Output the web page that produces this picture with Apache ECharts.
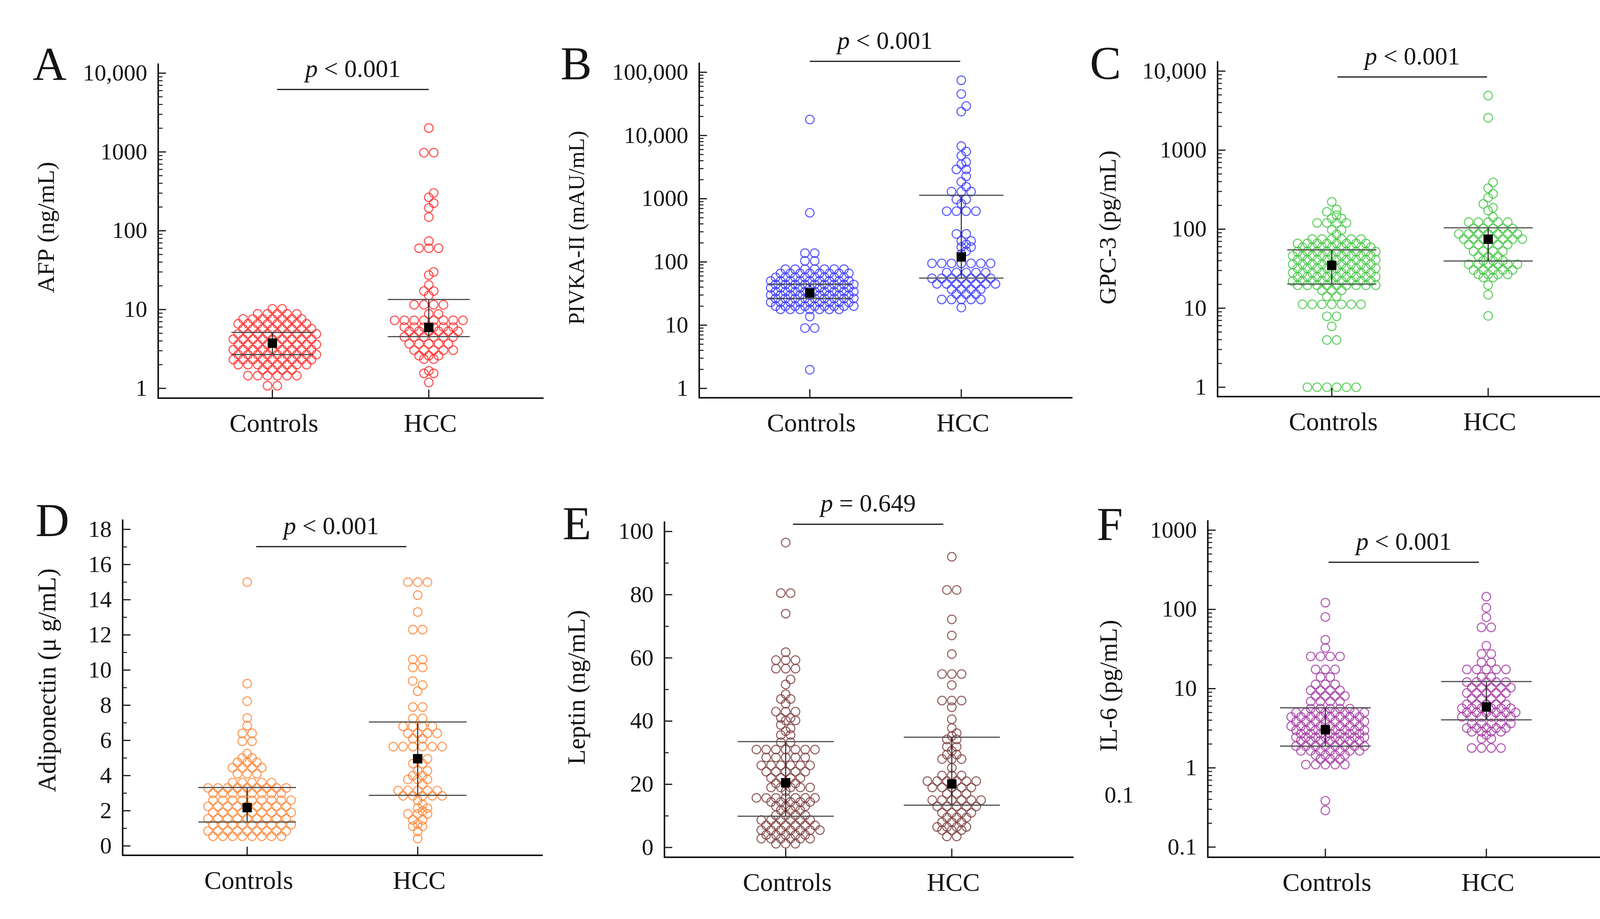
<!DOCTYPE html>
<html>
<head>
<meta charset="utf-8">
<title>Serum markers in controls and HCC</title>
<script src="https://cdn.jsdelivr.net/npm/echarts@6/dist/echarts.min.js"></script>
<style>
html, body { margin: 0; padding: 0; background: #fff; }
#chart { width: 4187px; height: 2352px; }
</style>
</head>
<body>
<div id="chart"></div>
<script>
var groups = ['Controls', 'HCC'];

// A - AFP (ng/mL)
var afpControls = [
  1.08, 1.08,
  1.45, 1.45, 1.45, 1.45, 1.45, 1.45,
  1.72, 1.72, 1.72, 1.72,
  2.0, 2.0, 2.0, 2.0, 2.0, 2.0, 2.0, 2.0,
  2.32, 2.32, 2.32, 2.32, 2.32, 2.32, 2.32, 2.32, 2.32,
  2.68, 2.68, 2.68, 2.68, 2.68, 2.68, 2.68, 2.68, 2.68,
  3.1, 3.1, 3.1, 3.1, 3.1, 3.1, 3.1, 3.1, 3.1,
  3.6, 3.6, 3.6, 3.6, 3.6, 3.6, 3.6, 3.6, 3.6,
  4.2, 4.2, 4.2, 4.2, 4.2, 4.2, 4.2, 4.2, 4.2,
  4.9, 4.9, 4.9, 4.9, 4.9, 4.9, 4.9, 4.9, 4.9,
  5.7, 5.7, 5.7, 5.7, 5.7, 5.7, 5.7, 5.7,
  6.6, 6.6, 6.6, 6.6, 6.6, 6.6, 6.6, 6.6,
  7.6, 7.6, 7.6, 7.6, 7.6, 7.6, 7.6,
  8.8, 8.8, 8.8, 8.8, 8.8,
  10.2, 10.2
];
var afpHcc = [
  2010, 980, 980, 302, 265, 224, 195, 149, 74, 60, 60, 60, 30, 27.4, 20.5, 17.2, 17.2, 15.1,
  11.5, 11.5, 11.5, 11.5, 8.8, 8.8,
  7.3, 7.3, 7.3, 7.3, 7.3, 7.3, 7.3, 7.3,
  6.0, 6.0, 6.0, 6.0, 6.0, 6.0,
  5.3, 5.3, 5.3, 5.3, 5.3, 5.3,
  4.5, 4.5, 4.5, 4.5, 4.5, 4.5,
  3.67, 3.67, 3.67, 3.67, 3.67,
  3.05, 3.05, 3.05, 3.05, 3.05,
  2.6, 2.6, 2.6, 2.35, 2.35, 1.67, 1.55, 1.55, 1.19
];
var afpControlsBar = [2.68, 3.75, 5.13];   // low, centre, high
var afpHccBar = [4.54, 5.93, 13.4];
var afpTicks = [1, 10, 100, 1000, 10000];
var afpTickLabels = ['1', '10', '100', '1000', '10,000'];
var afpP = 'p < 0.001';

// B - PIVKA-II (mAU/mL)
var pivkaControls = [
  17900, 600, 138, 138, 104, 104,
  77, 77, 77, 77, 77, 77, 77,
  66, 66, 66, 66, 66, 66, 66, 66,
  57, 57, 57, 57, 57, 57, 57, 57,
  50, 50, 50, 50, 50, 50, 50, 50, 50,
  44, 44, 44, 44, 44, 44, 44, 44, 44,
  39, 39, 39, 39, 39, 39, 39, 39, 39,
  34, 34, 34, 34, 34, 34, 34, 34, 34,
  30, 30, 30, 30, 30, 30, 30, 30, 30,
  26.5, 26.5, 26.5, 26.5, 26.5, 26.5, 26.5, 26.5, 26.5,
  23, 23, 23, 23, 23, 23, 23, 23, 23,
  20, 20, 20, 20, 20, 20, 20, 20, 20,
  17.8, 17.8, 17.8, 17.8, 17.8, 17.8, 17.8,
  13.7, 9, 9, 1.97
];
var pivkaHcc = [
  74800, 45400, 29200, 23900,
  6800, 5570, 4790, 3815, 3515, 2910, 2910, 2265, 1855, 1550,
  1295, 1295, 1295, 975, 975, 835, 635, 635, 635, 635,
  278, 278, 215, 215, 190, 172, 172, 148, 133,
  95, 95, 95, 95, 95, 95, 95,
  68, 68, 68, 68, 68,
  55, 55, 55, 55, 55, 55, 55,
  45, 45, 45, 45, 45, 45, 45,
  37, 37, 37, 37, 31, 31, 31,
  25.5, 25.5, 25.5, 25.5, 25.5, 19
];
var pivkaControlsBar = [26.5, 32.4, 44.6];
var pivkaHccBar = [55.6, 120, 1136];
var pivkaTicks = [1, 10, 100, 1000, 10000, 100000];
var pivkaTickLabels = ['1', '10', '100', '1000', '10,000', '100,000'];
var pivkaP = 'p < 0.001';

// C - GPC-3 (pg/mL)
var gpc3Controls = [
  1, 1, 1, 1, 1, 1, 3.96, 3.96, 5.9, 7.9, 7.9,
  11.2, 11.2, 11.2, 11.2, 11.2, 11.2, 11.2, 14.1, 14.1, 16.8, 16.8, 16.8,
  19.5, 19.5, 19.5, 19.5, 19.5, 19.5, 19.5, 19.5, 19.5,
  22, 22, 22, 22, 22, 22, 22, 22, 22,
  25, 25, 25, 25, 25, 25, 25, 25, 25,
  28, 28, 28, 28, 28, 28, 28, 28, 28,
  32, 32, 32, 32, 32, 32, 32, 32, 32,
  36, 36, 36, 36, 36, 36, 36, 36, 36,
  41, 41, 41, 41, 41, 41, 41, 41, 41,
  46, 46, 46, 46, 46, 46, 46, 46, 46,
  52, 52, 52, 52, 52, 52, 52, 52, 52,
  59, 59, 59, 59, 59, 59, 59, 59,
  66, 66, 66, 66, 66, 66, 66, 66,
  75, 75, 75, 75, 75, 75,
  86, 98, 98, 120, 120, 120, 120, 137, 137, 150, 166, 178, 222
];
var gpc3Hcc = [
  4900, 2570, 391, 330, 280, 250, 209, 187, 172, 142,
  123, 123, 123, 123, 123,
  102, 102, 102, 102, 102,
  87, 87, 87, 87, 87, 87, 87,
  75, 75, 75, 75, 75, 75, 75,
  64, 64, 64, 64, 64,
  52.6, 52.6, 52.6, 52.6, 45, 45, 45, 40, 40, 40,
  36, 36, 36, 36, 36, 36,
  30.5, 30.5, 30.5, 30.5, 30.5,
  26.8, 26.8, 26.8, 26.8, 24.5, 24.5, 19.6, 14.8, 8.0
];
var gpc3ControlsBar = [20.2, 34.9, 54.7];
var gpc3HccBar = [39.5, 74.7, 104];
var gpc3Ticks = [1, 10, 100, 1000, 10000];
var gpc3TickLabels = ['1', '10', '100', '1000', '10,000'];
var gpc3P = 'p < 0.001';

// D - Adiponectin (ug/mL)
var adipoControls = [
  0.55, 0.55, 0.55, 0.55, 0.55, 0.55, 0.55, 0.55,
  0.85, 0.85, 0.85, 0.85, 0.85, 0.85, 0.85, 0.85, 0.85,
  1.2, 1.2, 1.2, 1.2, 1.2, 1.2, 1.2, 1.2, 1.2,
  1.55, 1.55, 1.55, 1.55, 1.55, 1.55, 1.55, 1.55, 1.55,
  1.9, 1.9, 1.9, 1.9, 1.9, 1.9, 1.9, 1.9, 1.9,
  2.25, 2.25, 2.25, 2.25, 2.25, 2.25, 2.25, 2.25, 2.25,
  2.6, 2.6, 2.6, 2.6, 2.6, 2.6, 2.6, 2.6, 2.6,
  3.0, 3.0, 3.0, 3.0, 3.0, 3.0, 3.0, 3.0,
  3.3, 3.3, 3.3, 3.3, 3.3, 3.3, 3.3, 3.3, 3.3,
  3.6, 3.6, 3.6, 3.6, 3.6, 4.1, 4.1, 4.1,
  4.45, 4.45, 4.45, 4.45, 4.75, 4.75, 4.75, 5.0, 5.0, 5.25,
  5.95, 5.95, 6.4, 6.4, 6.84, 7.28, 8.23, 9.23, 15.0
];
var adipoHcc = [
  15, 15, 15, 14.26, 13.3, 12.3, 12.3, 10.6, 10.6, 10.15, 10.15, 9.38, 9.15, 8.8,
  7.9, 7.9, 7.25, 7.25, 6.8, 6.8, 6.8, 6.8, 6.4, 6.4, 6.4, 6.4, 6.1, 6.1,
  5.65, 5.65, 5.65, 5.65, 5.65, 5.65,
  4.95, 4.95, 4.68, 4.68, 4.27, 4.27, 4.0, 4.0, 3.78, 3.78, 3.78, 3.5,
  3.15, 3.15, 3.15, 3.15, 3.15,
  2.85, 2.85, 2.85, 2.85, 2.85,
  2.6, 2.34, 2.15, 2.15, 1.98, 1.82, 1.82, 1.82, 1.48, 1.48, 1.25, 1.12, 1.12, 0.83, 0.42
];
var adipoControlsBar = [1.36, 2.18, 3.32];
var adipoHccBar = [2.88, 4.96, 7.05];
var adipoTicks = [0, 2, 4, 6, 8, 10, 12, 14, 16, 18];
var adipoTickLabels = ['0', '2', '4', '6', '8', '10', '12', '14', '16', '18'];
var adipoP = 'p < 0.001';

// E - Leptin (ng/mL)
var leptinControls = [
  96.5, 80.5, 80.5, 74, 61.8, 59.3, 59.3, 59.3, 56.6, 56.6, 56.6, 53.2, 51.6,
  48.5, 47, 47, 45.5, 43, 43, 43, 41, 41, 40.2, 40.2, 38.8, 37.7, 36.8, 35.6, 35.6, 33.3, 33.3,
  31, 31, 31, 31, 31, 31, 31,
  28.5, 28.5, 28.5, 28.5, 28.5,
  26, 26, 26, 26, 26, 26,
  24, 24, 24, 24, 24,
  22, 22, 22, 22, 20.3, 20.3, 20.3,
  19, 19, 19, 19, 19, 17.8,
  15.7, 15.7, 15.7, 15.7, 15.7, 15.7, 15.7,
  14.4, 14.4, 14.4, 14.4, 14.4,
  13, 13, 13, 13, 11.8, 11.8, 11.8, 10.2, 10.2, 10.2, 10.2,
  8.7, 8.7, 8.7, 8.7, 8.7, 8.7,
  7, 7, 7, 7, 7, 7,
  5.5, 5.5, 5.5, 5.5, 5.5, 5.5, 5.5,
  4, 4, 4, 4, 4,
  2.8, 2.8, 2.8, 2.8, 2.8, 2.8,
  1.2, 1.2, 1.2
];
var leptinHcc = [
  92, 81.5, 81.5, 72.2, 67.1, 61.2, 54.9, 54.9, 54.9, 51.4, 46.5, 46.5, 46.5, 44.4, 40.6,
  37.8, 36.2, 35.3, 34.2, 34.2, 31.9, 31.9, 30.6, 29.4, 29.4, 28, 28, 28, 25.2,
  22.8, 22.8, 22.8, 21, 21, 21, 21, 21, 21,
  19, 19, 19, 19, 19, 17, 17, 17,
  15, 15, 15, 15, 15, 15,
  13, 13, 13, 13, 13, 11, 11, 11, 11,
  9.5, 9.5, 9.5, 8, 8, 8, 6.5, 6.5, 6.5, 6.5, 5.5, 5.5, 5.5, 3.5, 3.5
];
var leptinControlsBar = [9.9, 20.5, 33.5];
var leptinHccBar = [13.4, 20.1, 34.9];
var leptinTicks = [0, 20, 40, 60, 80, 100];
var leptinTickLabels = ['0', '20', '40', '60', '80', '100'];
var leptinP = 'p = 0.649';

// F - IL-6 (pg/mL)
var il6Controls = [
  121.6, 80.3, 41.4, 32.6, 25.5, 25.5, 25.5, 25.5, 17.5, 17.5, 17.5, 14, 14,
  11.3, 11.3, 11.3, 9.5, 9.5, 9.5, 9.5, 8.1, 8.1, 8.1, 8.1, 6.9, 6.9, 6.9, 6.9,
  5.6, 5.6, 5.6, 5.6, 5.6,
  5.0, 5.0, 5.0, 5.0, 5.0, 5.0, 5.0, 5.0,
  4.4, 4.4, 4.4, 4.4, 4.4, 4.4, 4.4, 4.4,
  3.85, 3.85, 3.85, 3.85, 3.85, 3.85, 3.85, 3.85,
  3.36, 3.36, 3.36, 3.36, 3.36, 3.36, 3.36, 3.36,
  2.98, 2.98, 2.98, 2.98, 2.98, 2.98, 2.98, 2.98,
  2.69, 2.69, 2.69, 2.69, 2.69, 2.69, 2.69,
  2.44, 2.44, 2.44, 2.44, 2.44, 2.44, 2.44, 2.44,
  2.2, 2.2, 2.2, 2.2, 2.2, 2.2, 2.2,
  1.88, 1.88, 1.88, 1.88, 1.88, 1.88, 1.88, 1.88,
  1.64, 1.64, 1.64, 1.64, 1.64, 1.64, 1.64,
  1.45, 1.45, 1.45, 1.45, 1.29, 1.29, 1.29,
  1.1, 1.1, 1.1, 1.1, 1.1, 0.384, 0.29
];
var il6Hcc = [
  145, 105, 79.6, 59.3, 59.3, 34.8, 27.4, 27.4, 21.5, 21.5,
  17.5, 17.5, 17.5, 17.5, 17.5, 14, 14,
  12.1, 12.1, 12.1, 12.1, 12.1,
  10.3, 10.3, 10.3, 10.3, 10.3,
  8.8, 8.8, 8.8, 8.8, 8.8,
  7.5, 7.5, 7.5, 7.5,
  6.35, 6.35, 6.35, 6.35, 6.35,
  5.65, 5.65, 5.65, 5.65, 5.65, 5.65,
  5.0, 5.0, 5.0, 5.0, 5.0, 5.0,
  4.4, 4.4, 4.4, 4.4, 4.4, 4.4,
  3.64, 3.64, 3.64, 3.64, 3.64,
  3.18, 3.18, 3.18, 3.18, 3.18,
  2.86, 2.86, 2.86, 2.86, 2.6, 2.33, 2.33, 1.78, 1.78, 1.78, 1.78
];
var il6ControlsBar = [1.88, 3.03, 5.73];
var il6HccBar = [4.04, 5.87, 12.3];
var il6Ticks = [0.1, 1, 10, 100, 1000];
var il6TickLabels = ['0.1', '1', '10', '100', '1000'];
var il6P = 'p < 0.001';

var X_MIN = 0.27, X_MAX = 2.73;
var FONT = 'Liberation Serif';
var INK = '#141414';
var SYM = 22, STEP = 25;

// layout: grid = [left, top, width, height] in px, sig = [x1, x2, y] in data units
var panels = [
  { letter: 'A', title: 'AFP (ng/mL)', titleSize: 62, log: true, yMin: 0.751, yMax: 13030,
    grid: [405, 164, 985, 855], letterPos: [127, 173], titlePos: [122, 582], cap: 105,
    color: '#ff2626', ctrl: afpControls, hcc: afpHcc, ctrlBar: afpControlsBar, hccBar: afpHccBar,
    ticks: afpTicks, labels: afpTickLabels, p: afpP, sig: [1.03, 2.0, 6210] },
  { letter: 'B', title: 'PIVKA-II (mAU/mL)', titleSize: 56, log: true, yMin: 0.711, yMax: 138700,
    grid: [1790, 162, 954, 856], letterPos: [1475, 171], titlePos: [1480, 583], cap: 108,
    color: '#3636ff', ctrl: pivkaControls, hcc: pivkaHcc, ctrlBar: pivkaControlsBar, hccBar: pivkaHccBar,
    ticks: pivkaTicks, labels: pivkaTickLabels, p: pivkaP, sig: [1.0, 1.993, 149000] },
  { letter: 'C', title: 'GPC-3 (pg/mL)', titleSize: 62, log: true, yMin: 0.761, yMax: 13150,
    grid: [3117, 158, 985, 857], letterPos: [2830, 170], titlePos: [2840, 582], cap: 114,
    color: '#40c640', ctrl: gpc3Controls, hcc: gpc3Hcc, ctrlBar: gpc3ControlsBar, hccBar: gpc3HccBar,
    ticks: gpc3Ticks, labels: gpc3TickLabels, p: gpc3P, sig: [1.037, 1.993, 8430] },
  { letter: 'D', title: 'Adiponectin (\u03bc g/mL)', titleSize: 65, log: false, yMin: -0.533, yMax: 18.53,
    grid: [314, 1331, 1074, 858], letterPos: [134, 1340], titlePos: [125, 1741], cap: 125,
    color: '#ff8230', ctrl: adipoControls, hcc: adipoHcc, ctrlBar: adipoControlsBar, hccBar: adipoHccBar,
    ticks: adipoTicks, labels: adipoTickLabels, p: adipoP, sig: [1.053, 1.933, 17.02] },
  { letter: 'E', title: 'Leptin (ng/mL)', titleSize: 64, log: false, yMin: -3.09, yMax: 103,
    grid: [1701, 1336, 1046, 858], letterPos: [1477, 1348], titlePos: [1480, 1759], cap: 123,
    color: '#7a3b3b', ctrl: leptinControls, hcc: leptinHcc, ctrlBar: leptinControlsBar, hccBar: leptinHccBar,
    ticks: leptinTicks, labels: leptinTickLabels, p: leptinP, sig: [1.044, 1.949, 102.3] },
  { letter: 'F', title: 'IL-6 (pg/mL)', titleSize: 63, log: true, yMin: 0.0744, yMax: 1312,
    grid: [3092, 1333, 1014, 861], letterPos: [2841, 1350], titlePos: [2842, 1755], cap: 116,
    color: '#a234a2', ctrl: il6Controls, hcc: il6Hcc, ctrlBar: il6ControlsBar, hccBar: il6HccBar,
    ticks: il6Ticks, labels: il6TickLabels, p: il6P, sig: [1.02, 1.954, 394] }
];

function tickData(p) {
  var out = p.ticks.map(function (v, k) { return [X_MIN, v, 1, k]; });
  for (var k = 0; k < p.ticks.length - 1; k++) {
    var t0 = p.ticks[k], t1 = p.ticks[k + 1];
    if (p.log) {
      for (var m = 2; m <= 9; m++) out.push([X_MIN, t0 * m, 0, -1]);
    } else {
      out.push([X_MIN, (t0 + t1) / 2, 0, -1]);
    }
  }
  return out;
}

function yTickRenderer(p) {
  return function (params, api) {
    var major = api.value(2) === 1;
    var pt = api.coord([api.value(0), api.value(1)]);
    var len = major ? 20 : 11;
    var kids = [{ type: 'line', shape: { x1: pt[0], y1: pt[1], x2: pt[0] + len, y2: pt[1] },
      style: { stroke: INK, lineWidth: major ? 3 : 2.5 } }];
    if (major) {
      kids.push({ type: 'text', x: pt[0] - 28, y: pt[1] + 3,
        style: { text: p.labels[api.value(3)], fill: INK, fontSize: 60, fontFamily: FONT,
          align: 'right', verticalAlign: 'middle' } });
    }
    return { type: 'group', children: kids };
  };
}

function xTickRenderer(params, api) {
  var pt = api.coord([api.value(0), api.value(1)]);
  return { type: 'group', children: [
    { type: 'line', shape: { x1: pt[0], y1: pt[1], x2: pt[0], y2: pt[1] - 22 }, style: { stroke: INK, lineWidth: 3 } },
    { type: 'text', x: pt[0] + 4, y: pt[1] + 69,
      style: { text: groups[params.dataIndex], fill: INK, fontSize: 66, fontFamily: FONT, align: 'center', verticalAlign: 'middle' } }
  ] };
}

function barRenderer(p) {
  return function (params, api) {
    var x = api.value(0);
    var mid = api.coord([x, api.value(1)]);
    var lo = api.coord([x, api.value(2)]);
    var hi = api.coord([x, api.value(3)]);
    var w = p.cap;
    return { type: 'group', children: [
      { type: 'line', shape: { x1: mid[0], y1: lo[1], x2: mid[0], y2: hi[1] }, style: { stroke: '#222', lineWidth: 2.5 } },
      { type: 'line', shape: { x1: mid[0] - w, y1: lo[1], x2: mid[0] + w, y2: lo[1] }, style: { stroke: '#505050', lineWidth: 3 } },
      { type: 'line', shape: { x1: mid[0] - w, y1: hi[1], x2: mid[0] + w, y2: hi[1] }, style: { stroke: '#505050', lineWidth: 3 } },
      { type: 'rect', shape: { x: mid[0] - 12, y: mid[1] - 12, width: 24, height: 24 }, style: { fill: '#000' } }
    ] };
  };
}

function sigRenderer(p) {
  return function (params, api) {
    var a = api.coord([api.value(0), api.value(1)]);
    var b = api.coord([api.value(2), api.value(1)]);
    var txt = '{i|p}' + p.p.slice(1);
    return { type: 'group', children: [
      { type: 'line', shape: { x1: a[0], y1: a[1], x2: b[0], y2: b[1] }, style: { stroke: INK, lineWidth: 3 } },
      { type: 'text', x: (a[0] + b[0]) / 2, y: a[1] - 49,
        style: { text: txt, fill: INK, fontSize: 64, fontFamily: FONT, align: 'center', verticalAlign: 'middle',
          rich: { i: { fontStyle: 'italic', fontSize: 64, fontFamily: FONT, fill: INK } } } }
    ] };
  };
}

var option = { animation: false, backgroundColor: '#fff', grid: [], xAxis: [], yAxis: [], series: [], graphic: [] };

panels.forEach(function (p, i) {
  option.grid.push({ left: p.grid[0], top: p.grid[1], width: p.grid[2], height: p.grid[3] });
  option.xAxis.push({ gridIndex: i, type: 'value', min: X_MIN, max: X_MAX,
    axisLine: { show: true, onZero: false, lineStyle: { color: INK, width: 4 } },
    axisTick: { show: false }, axisLabel: { show: false }, splitLine: { show: false } });
  option.yAxis.push({ gridIndex: i, type: p.log ? 'log' : 'value', logBase: 10, min: p.yMin, max: p.yMax,
    axisLine: { show: true, onZero: false, lineStyle: { color: INK, width: 4 } },
    axisTick: { show: false }, axisLabel: { show: false }, splitLine: { show: false } });

  ['ctrl', 'hcc'].forEach(function (g) {
    option.series.push({ id: 'pts' + i + g, type: 'scatter', xAxisIndex: i, yAxisIndex: i, data: [],
      symbol: 'circle', symbolSize: SYM, silent: true, z: 2,
      itemStyle: { color: 'rgba(255,255,255,0)', borderColor: p.color, borderWidth: 2.7 } });
  });
  option.series.push({ type: 'custom', xAxisIndex: i, yAxisIndex: i, silent: true, z: 4,
    renderItem: barRenderer(p),
    data: [[1, p.ctrlBar[1], p.ctrlBar[0], p.ctrlBar[2]], [2, p.hccBar[1], p.hccBar[0], p.hccBar[2]]] });
  option.series.push({ type: 'custom', xAxisIndex: i, yAxisIndex: i, silent: true, z: 5,
    renderItem: yTickRenderer(p), data: tickData(p) });
  option.series.push({ type: 'custom', xAxisIndex: i, yAxisIndex: i, silent: true, z: 5,
    renderItem: xTickRenderer, data: [[1, p.yMin], [2, p.yMin]] });
  option.series.push({ type: 'custom', xAxisIndex: i, yAxisIndex: i, silent: true, z: 5,
    renderItem: sigRenderer(p), data: [[p.sig[0], p.sig[2], p.sig[1]]] });

  option.graphic.push({ type: 'text', x: p.letterPos[0], y: p.letterPos[1], silent: true,
    style: { text: p.letter, fill: INK, fontSize: 120, fontFamily: FONT, align: 'center', verticalAlign: 'middle' } });
  option.graphic.push({ type: 'text', x: p.titlePos[0], y: p.titlePos[1], rotation: Math.PI / 2, silent: true,
    style: { text: p.title, fill: INK, fontSize: p.titleSize, fontFamily: FONT, align: 'center', verticalAlign: 'middle' } });
});

// stray label printed inside panel F of the original figure
option.graphic.push({ type: 'text', x: 2865, y: 2038, silent: true,
  style: { text: '0.1', fill: INK, fontSize: 60, fontFamily: FONT, align: 'center', verticalAlign: 'middle' } });

var chart = echarts.init(document.getElementById('chart'));
chart.setOption(option);

// prism-like column scatter: equal values share a row, close rows are staggered by half a step
function swarm(gi, xc, vals) {
  var cx = chart.convertToPixel({ gridIndex: gi }, [xc, vals[0]])[0];
  var pts = vals.map(function (v) {
    return { v: v, py: chart.convertToPixel({ gridIndex: gi }, [xc, v])[1] };
  }).sort(function (a, b) { return b.py - a.py; });
  var rows = [];
  pts.forEach(function (pt) {
    var last = rows[rows.length - 1];
    if (last && Math.abs(pt.py - last[0].py) < 3) last.push(pt);
    else rows.push([pt]);
  });
  var placed = [];
  var out = [];
  rows.forEach(function (row) {
    var shifts = [0, STEP / 2, -STEP / 2];
    var chosen = 0, bestD = -1;
    for (var s = 0; s < shifts.length; s++) {
      var d = Infinity;
      row.forEach(function (pt, k) {
        var px = cx + (k - (row.length - 1) / 2) * STEP + shifts[s];
        placed.forEach(function (q) {
          var dd = Math.sqrt((px - q[0]) * (px - q[0]) + (pt.py - q[1]) * (pt.py - q[1]));
          if (dd < d) d = dd;
        });
      });
      if (s === 0 && d >= SYM * 0.75) { chosen = 0; break; }
      if (d > bestD) { bestD = d; chosen = shifts[s]; }
    }
    row.forEach(function (pt, k) {
      var px = cx + (k - (row.length - 1) / 2) * STEP + chosen;
      placed.push([px, pt.py]);
      out.push([chart.convertFromPixel({ gridIndex: gi }, [px, pt.py])[0], pt.v]);
    });
  });
  return out;
}

var update = [];
panels.forEach(function (p, i) {
  update.push({ id: 'pts' + i + 'ctrl', data: swarm(i, 1, p.ctrl) });
  update.push({ id: 'pts' + i + 'hcc', data: swarm(i, 2, p.hcc) });
});
chart.setOption({ series: update });
</script>
</body>
</html>
